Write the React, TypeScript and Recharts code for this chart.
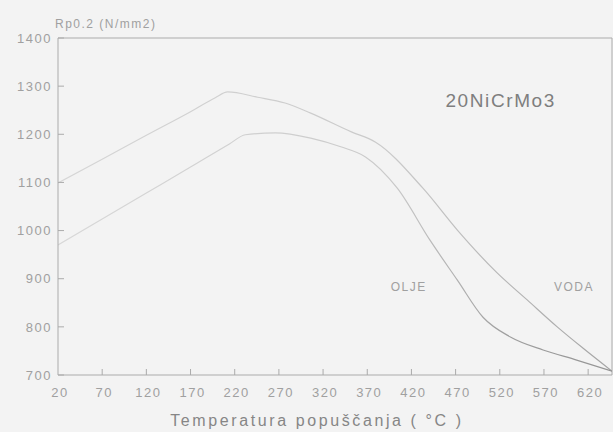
import { LineChart, Line, XAxis, YAxis, ReferenceLine, ReferenceDot, Label } from 'recharts';

// temperature (°C) vs Rp0.2 (N/mm2)
const vodaTemp = [20, 70, 120, 170, 198, 212, 246, 277, 306, 352, 379, 433, 472, 517, 551, 585, 614, 647];
const vodaRp = [1099, 1148, 1198, 1247, 1276, 1288, 1277, 1265, 1244, 1205, 1184, 1088, 1001, 912, 856, 800, 756, 708];

const oljeTemp = [20, 70, 120, 170, 214, 232, 266, 306, 340, 368, 404, 441, 472, 501, 532, 569, 607, 647];
const oljeRp = [970, 1024, 1078, 1132, 1180, 1199, 1203, 1192, 1174, 1153, 1088, 980, 897, 820, 779, 752, 731, 708];

const xTicks = [20, 70, 120, 170, 220, 270, 320, 370, 420, 470, 520, 570, 620];
const yTicks = [700, 800, 900, 1000, 1100, 1200, 1300, 1400];

const voda = vodaTemp.map((t, i) => ({ t, rp: vodaRp[i] }));
const olje = oljeTemp.map((t, i) => ({ t, rp: oljeRp[i] }));

const FONT = '"Liberation Sans", Arial, sans-serif';
const AXIS = '#ababab';
const TEXT = '#a0a0a0';

const YTick = (props: any) => {
  const { x, y, payload } = props;
  return (
    <g>
      <line x1={x + 6} y1={y} x2={x + 12} y2={y} stroke={AXIS} />
      <text x={x} y={y} dy="0.36em" textAnchor="end" fontSize={13} fill={TEXT}
        fontFamily={FONT} style={{ letterSpacing: 1.5 }}>
        {payload.value}
      </text>
    </g>
  );
};

const XTick = (props: any) => {
  const { x, y, payload } = props;
  return (
    <g>
      {payload.value !== 20 && <line x1={x} y1={y - 13} x2={x} y2={y - 19} stroke={AXIS} />}
      <text x={x + 2} y={y} dy="0.71em" textAnchor="middle" fontSize={13} fill={TEXT}
        fontFamily={FONT} style={{ letterSpacing: 1.5 }}>
        {payload.value}
      </text>
    </g>
  );
};

const App = () => {
  return (
    <div style={{ position: 'absolute', left: 0, top: 0, width: 613, height: 432, background: '#f3f3f3' }}>
      <LineChart width={613} height={432} margin={{ top: 38, right: 1, bottom: 0, left: 0 }}>
        <defs>
          <linearGradient id="vodaStroke" x1="0" y1="0" x2="1" y2="0">
            <stop offset="0%" stopColor="#d6d6d6" />
            <stop offset="60%" stopColor="#cacaca" />
            <stop offset="100%" stopColor="#a4a4a4" />
          </linearGradient>
          <linearGradient id="oljeStroke" x1="0" y1="0" x2="1" y2="0">
            <stop offset="0%" stopColor="#d8d8d8" />
            <stop offset="60%" stopColor="#cacaca" />
            <stop offset="80%" stopColor="#a0a0a0" />
            <stop offset="100%" stopColor="#949494" />
          </linearGradient>
        </defs>
        <XAxis
          type="number"
          dataKey="t"
          domain={[20, 647]}
          ticks={xTicks}
          interval={0}
          allowDataOverflow
          stroke={AXIS}
          height={57}
          tickSize={0}
          tickMargin={13}
          tick={<XTick />}
        >
          <Label
            value="Temperatura popuščanja ( °C )"
            position="insideBottom"
            offset={6}
            dx={-18}
            fontSize={16}
            fill="#868686"
            fontFamily={FONT}
            style={{ letterSpacing: 2.6 }}
          />
        </XAxis>
        <YAxis
          type="number"
          domain={[700, 1400]}
          ticks={yTicks}
          interval={0}
          allowDataOverflow
          stroke={AXIS}
          width={58}
          tickSize={0}
          tickMargin={6}
          tick={<YTick />}
        >
          <Label
            content={({ viewBox }: any) => (
              <text x={viewBox.x + viewBox.width - 3} y={viewBox.y - 10} fontSize={12}
                fill={TEXT} fontFamily={FONT} style={{ letterSpacing: 1.5 }}>
                Rp0.2 (N/mm2)
              </text>
            )}
          />
        </YAxis>
        <ReferenceLine y={1400} stroke={AXIS} />
        <ReferenceLine x={647} stroke={AXIS} />
        <Line
          data={voda}
          dataKey="rp"
          type="monotone"
          stroke="url(#vodaStroke)"
          strokeWidth={1.2}
          dot={false}
          activeDot={false}
          isAnimationActive={false}
        />
        <Line
          data={olje}
          dataKey="rp"
          type="monotone"
          stroke="url(#oljeStroke)"
          strokeWidth={1.2}
          dot={false}
          activeDot={false}
          isAnimationActive={false}
        />
        <ReferenceDot x={521} y={1271} r={0} stroke="none"
          label={{ value: '20NiCrMo3', position: 'center', fontSize: 19, fill: '#7e7e7e', fontFamily: FONT, style: { letterSpacing: 1.6 } }} />
        <ReferenceDot x={417} y={883} r={0} stroke="none"
          label={{ value: 'OLJE', position: 'center', fontSize: 12, fill: TEXT, fontFamily: FONT, style: { letterSpacing: 1.5 } }} />
        <ReferenceDot x={604} y={883} r={0} stroke="none"
          label={{ value: 'VODA', position: 'center', fontSize: 12, fill: TEXT, fontFamily: FONT, style: { letterSpacing: 1.5 } }} />
      </LineChart>
    </div>
  );
};

export default App;
